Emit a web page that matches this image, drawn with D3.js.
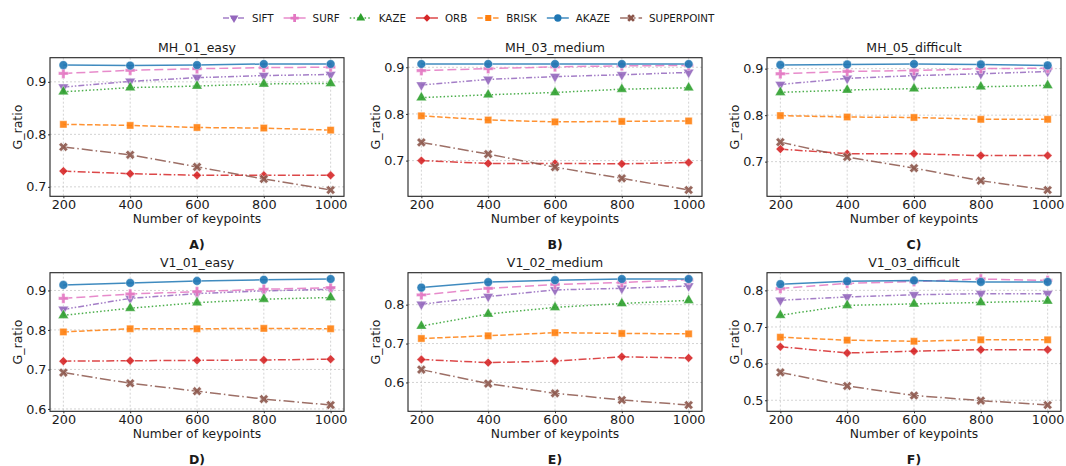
<!DOCTYPE html>
<html>
<head>
<meta charset="utf-8">
<script src="https://cdn.jsdelivr.net/npm/d3@7"></script>
<style>
  body { margin: 0; background: #fff; }
  text { font-family: "DejaVu Sans", sans-serif; fill: #1a1a1a; }
</style>
</head>
<body>
<div id="chart"></div>
<script>
// G_ratio vs number of keypoints, 6 sequences

const keypoints = [200, 400, 600, 800, 1000]
const panelTitles = ['MH_01_easy', 'MH_03_medium', 'MH_05_difficult', 'V1_01_easy', 'V1_02_medium', 'V1_03_difficult']
const panelLetters = ['A)', 'B)', 'C)', 'D)', 'E)', 'F)']
const methods = ['SIFT', 'SURF', 'KAZE', 'ORB', 'BRISK', 'AKAZE', 'SUPERPOINT']

// one row per panel (same order as panelTitles)
const sift = [
  [0.890, 0.901, 0.908, 0.912, 0.914],
  [0.862, 0.874, 0.880, 0.884, 0.889],
  [0.866, 0.879, 0.885, 0.889, 0.894],
  [0.852, 0.880, 0.892, 0.899, 0.903],
  [0.801, 0.821, 0.838, 0.842, 0.848],
  [0.773, 0.782, 0.788, 0.791, 0.791]
]
const surf = [
  [0.916, 0.922, 0.925, 0.927, 0.928],
  [0.893, 0.897, 0.901, 0.903, 0.904],
  [0.889, 0.894, 0.896, 0.900, 0.901],
  [0.880, 0.891, 0.897, 0.903, 0.907],
  [0.825, 0.842, 0.852, 0.857, 0.864],
  [0.805, 0.819, 0.824, 0.831, 0.827]
]
const kaze = [
  [0.881, 0.889, 0.892, 0.896, 0.897],
  [0.835, 0.841, 0.846, 0.853, 0.856],
  [0.849, 0.854, 0.857, 0.861, 0.864],
  [0.837, 0.855, 0.869, 0.878, 0.882],
  [0.745, 0.776, 0.793, 0.803, 0.811],
  [0.732, 0.759, 0.763, 0.767, 0.771]
]
const orb = [
  [0.730, 0.725, 0.722, 0.722, 0.722],
  [0.700, 0.694, 0.694, 0.693, 0.696],
  [0.727, 0.717, 0.717, 0.713, 0.713],
  [0.721, 0.722, 0.723, 0.724, 0.726],
  [0.659, 0.651, 0.655, 0.666, 0.663],
  [0.646, 0.629, 0.634, 0.638, 0.638]
]
const brisk = [
  [0.819, 0.817, 0.813, 0.812, 0.808],
  [0.796, 0.787, 0.783, 0.784, 0.785],
  [0.799, 0.796, 0.795, 0.791, 0.791],
  [0.795, 0.803, 0.803, 0.804, 0.803],
  [0.713, 0.720, 0.728, 0.726, 0.725],
  [0.672, 0.664, 0.661, 0.665, 0.665]
]
const akaze = [
  [0.932, 0.931, 0.932, 0.934, 0.934],
  [0.907, 0.907, 0.907, 0.907, 0.907],
  [0.908, 0.909, 0.910, 0.909, 0.907],
  [0.914, 0.919, 0.924, 0.927, 0.929],
  [0.844, 0.858, 0.863, 0.866, 0.866],
  [0.817, 0.825, 0.827, 0.823, 0.823]
]
const superpoint = [
  [0.776, 0.761, 0.738, 0.715, 0.694],
  [0.739, 0.714, 0.686, 0.662, 0.637],
  [0.742, 0.710, 0.686, 0.659, 0.639],
  [0.692, 0.665, 0.645, 0.625, 0.610],
  [0.633, 0.597, 0.572, 0.555, 0.542],
  [0.576, 0.539, 0.513, 0.499, 0.487]
]

const colors = ['#9467bd', '#e377c2', '#2ca02c', '#d62728', '#ff7f0e', '#1f77b4', '#8c564b']
const dashes = ['6,2,1.5,2,1.5,2', '9,4', '1.5,2.2', '8,2.4,1.5,2.4', '5.5,2.4', null, '11,3,1.5,3']
const symbols = [
  { type: d3.symbolTriangle, size: 48, rot: 180 },
  { type: d3.symbolCross, size: 54, rot: 0 },
  { type: d3.symbolTriangle, size: 48, rot: 0 },
  { type: d3.symbolSquare, size: 40, rot: 45 },
  { type: d3.symbolSquare, size: 52, rot: 0 },
  { type: d3.symbolCircle, size: 60, rot: 0 },
  { type: d3.symbolCross, size: 52, rot: 45 }
]
const allSeries = [sift, surf, kaze, orb, brisk, akaze, superpoint]

const width = 1066
const height = 466
const colLeft = [50, 408, 767]
const rowTop = [57.7, 272.7]
const axW = 294
const axH = 138.6

const svg = d3.select('#chart')
  .append('svg')
  .attr('width', width)
  .attr('height', height)

const x = d3.scaleLinear().domain([160, 1040]).range([0, axW])

panelTitles.forEach((title, p) => {
  const left = colLeft[p % 3]
  const top = rowTop[Math.floor(p / 3)]
  const g = svg.append('g').attr('transform', `translate(${left},${top})`)

  const vals = allSeries.flatMap(s => s[p])
  const lo = d3.min(vals), hi = d3.max(vals)
  const pad = (hi - lo) * 0.05
  const y = d3.scaleLinear().domain([lo - pad, hi + pad]).range([axH, 0])
  const yTicks = d3.range(Math.ceil((lo - pad) * 10 - 1e-6) / 10, hi + pad, 0.1)

  // grid
  g.selectAll('.gx').data(keypoints).join('line')
    .attr('x1', d => x(d)).attr('x2', d => x(d))
    .attr('y1', 0).attr('y2', axH)
    .attr('stroke', '#c8c8c8').attr('stroke-width', 0.8).attr('stroke-dasharray', '2,2')
  g.selectAll('.gy').data(yTicks).join('line')
    .attr('x1', 0).attr('x2', axW)
    .attr('y1', d => y(d)).attr('y2', d => y(d))
    .attr('stroke', '#c8c8c8').attr('stroke-width', 0.8).attr('stroke-dasharray', '2,2')

  // axes
  const xAxis = g.append('g').attr('transform', `translate(0,${axH})`)
    .call(d3.axisBottom(x).tickValues(keypoints).tickFormat(d3.format('d')).tickSize(2).tickPadding(1.8))
  const yAxis = g.append('g')
    .call(d3.axisLeft(y).tickValues(yTicks).tickFormat(d3.format('.1f')).tickSize(2).tickPadding(1.5))
  ;[xAxis, yAxis].forEach(a => {
    a.select('.domain').remove()
    a.selectAll('line').attr('stroke', '#222').attr('stroke-width', 0.9)
    a.selectAll('text').style('font-size', '12.8px').attr('fill', '#1a1a1a')
      .style('font-family', '"DejaVu Sans", sans-serif')
  })

  // series
  allSeries.forEach((s, i) => {
    const pts = keypoints.map((k, j) => [k, s[p][j]])
    g.append('path')
      .datum(pts)
      .attr('fill', 'none')
      .attr('stroke', colors[i])
      .attr('stroke-width', 1.5)
      .attr('stroke-opacity', 0.85)
      .attr('stroke-dasharray', dashes[i])
      .attr('d', d3.line().x(d => x(d[0])).y(d => y(d[1])))
    const sym = symbols[i]
    g.selectAll(null).data(pts).join('path')
      .attr('transform', d => `translate(${x(d[0])},${y(d[1])}) rotate(${sym.rot})`)
      .attr('d', d3.symbol().type(sym.type).size(sym.size))
      .attr('fill', colors[i])
      .attr('fill-opacity', 0.9)
      .attr('stroke', '#fff')
      .attr('stroke-opacity', 0.5)
      .attr('stroke-width', 0.8)
  })

  // frame
  g.append('rect')
    .attr('width', axW).attr('height', axH)
    .attr('fill', 'none').attr('stroke', '#222').attr('stroke-width', 1.1)

  // labels
  g.append('text')
    .text(title)
    .attr('x', axW / 2).attr('y', -6)
    .attr('text-anchor', 'middle')
    .style('font-size', '12.5px')
  g.append('text')
    .text('Number of keypoints')
    .attr('x', axW / 2).attr('y', axH + 26.5)
    .attr('text-anchor', 'middle')
    .style('font-size', '12.3px')
  g.append('text')
    .text('G_ratio')
    .attr('transform', `translate(${-28},${axH / 2}) rotate(-90)`)
    .attr('text-anchor', 'middle')
    .style('font-size', '12.5px')
  g.append('text')
    .text(panelLetters[p])
    .attr('x', axW / 2).attr('y', axH + 52.8)
    .attr('text-anchor', 'middle')
    .style('font-size', '12.5px')
    .style('font-weight', 'bold')
})

// legend
const legend = svg.append('g').attr('transform', 'translate(223,18)')
let lx = 0
methods.forEach((m, i) => {
  const item = legend.append('g').attr('transform', `translate(${lx},0)`)
  item.append('line')
    .attr('x1', 0).attr('x2', 22).attr('y1', 0).attr('y2', 0)
    .attr('stroke', colors[i]).attr('stroke-width', 1.5)
    .attr('stroke-opacity', 0.85)
    .attr('stroke-dasharray', dashes[i])
  item.append('path')
    .attr('transform', `translate(11,0) rotate(${symbols[i].rot})`)
    .attr('d', d3.symbol().type(symbols[i].type).size(symbols[i].size * 0.7))
    .attr('fill', colors[i])
  const t = item.append('text')
    .text(m)
    .attr('x', 29).attr('y', 0)
    .attr('dy', '0.35em')
    .style('font-size', '10.3px')
  lx += 29 + t.node().getComputedTextLength() + 10
})
</script>
</body>
</html>
